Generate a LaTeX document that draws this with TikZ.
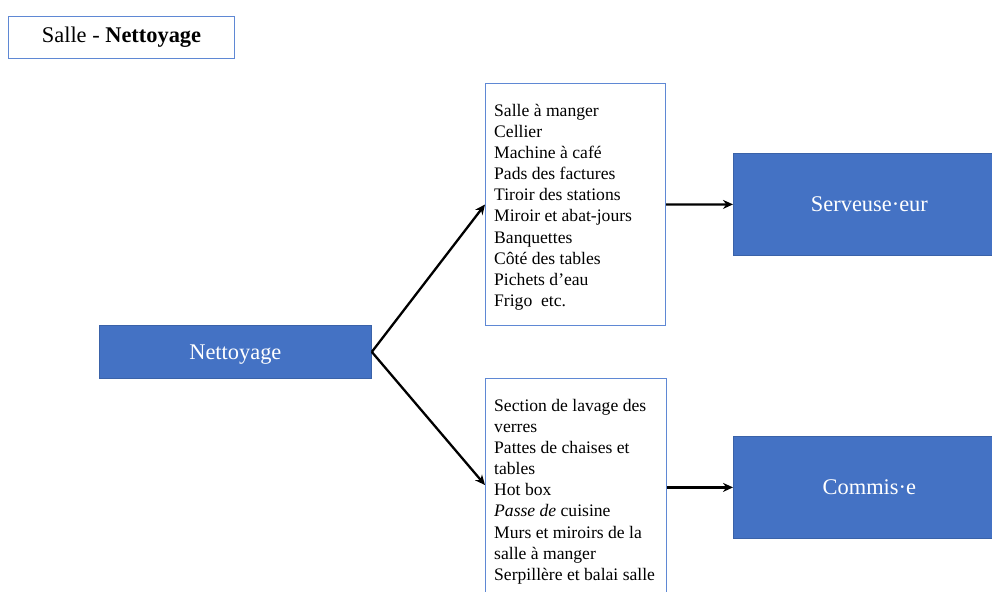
\documentclass[tikz,border=0pt]{standalone}
\usepackage{fontspec}
\setmainfont{Liberation Serif}
\usetikzlibrary{arrows.meta,calc}
\definecolor{accent}{HTML}{4472C4}
\definecolor{accentdark}{HTML}{3A62A8}
\definecolor{frame}{HTML}{5F88D4}
\begin{document}
\begin{tikzpicture}[x=1pt,y=-1pt,
  headbox/.style={draw=frame, line width=1pt, fill=white, inner sep=0pt,
    font=\fontsize{22.4pt}{26pt}\selectfont},
  bluebox/.style={draw=accentdark, line width=0.8pt, fill=accent, text=white, inner sep=0pt,
    text depth=0pt, font=\fontsize{22.4pt}{26pt}\selectfont},
  listbox/.style={draw=frame, line width=1pt, fill=white, inner sep=0pt},
  listtext/.style={inner sep=0pt, align=left, anchor=north west,
    font=\fontsize{17.6pt}{21.1pt}\selectfont},
  link/.style={line width=2.3pt, -{Stealth[length=10pt,width=9pt]}}
]
\useasboundingbox (0,0) rectangle (992,591);
\clip (0,0) rectangle (992,591);

% heading
\node[headbox, minimum width=226pt, minimum height=42pt, anchor=north west] (title) at (8,16)
  {Salle - \textbf{Nettoyage}};

% root task
\node[bluebox, minimum width=272pt, minimum height=53pt, anchor=north west] (root) at (99,325) {Nettoyage};

% task lists
\node[listbox, minimum width=180pt, minimum height=242pt, anchor=north west] (listA) at (485,83) {};
\node[listtext] (textA) at ($(listA.north west)+(9,21)$) {Salle à manger\\
Cellier\\
Machine à café\\
Pads des factures\\
Tiroir des stations\\
Miroir et abat-jours\\
Banquettes\\
Côté des tables\\
Pichets d’eau\\
Frigo\ \ etc.};

\node[listbox, minimum width=181pt, minimum height=240pt, anchor=north west] (listB) at (485,378) {};
\node[listtext] (textB) at ($(listB.north west)+(9,21)$) {Section de lavage des\\
verres\\
Pattes de chaises et\\
tables\\
Hot box\\
\textit{Passe de} cuisine\\
Murs et miroirs de la\\
salle à manger\\
Serpillère et balai salle};

% roles
\node[bluebox, minimum width=272pt, minimum height=102pt, anchor=north west] (server) at (733,153) {Serveuse·eur};
\node[bluebox, minimum width=272pt, minimum height=102pt, anchor=north west] (commis) at (733,436) {Commis·e};

% connectors
\coordinate (inB) at ($(listB.north west)+(0,107)$);
\draw[link] (root.east) -- (listA.west);
\draw[link] (root.east) -- (inB);
\draw[link] (listA.east) -- (server.west);
\draw[link] (commis.west -| listB.east) -- (commis.west);
\end{tikzpicture}
\end{document}
